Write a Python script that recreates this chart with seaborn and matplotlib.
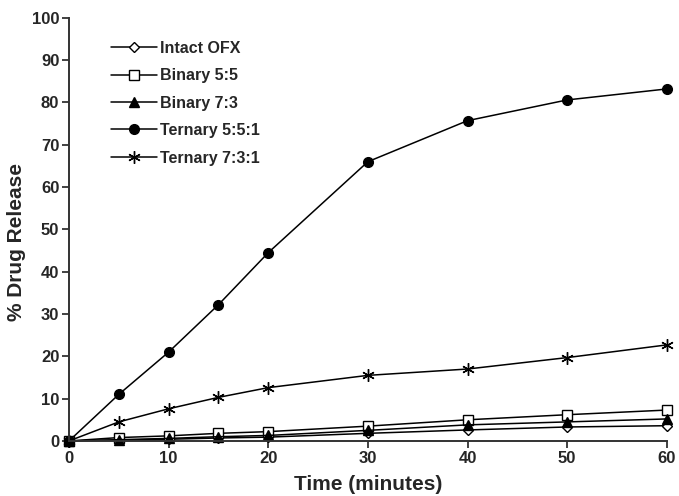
import matplotlib
matplotlib.use("Agg")
import matplotlib.pyplot as plt
import seaborn as sns
import pandas as pd

time_min = [0, 5, 10, 15, 20, 30, 40, 50, 60]
intact_ofx = [0, 0.2, 0.4, 0.7, 0.9, 1.8, 2.6, 3.3, 3.6]
binary_55 = [0, 0.8, 1.2, 1.8, 2.2, 3.5, 5.0, 6.2, 7.3]
binary_73 = [0, 0.3, 0.6, 1.0, 1.3, 2.5, 3.8, 4.5, 5.2]
ternary_551 = [0, 11.0, 21.0, 32.2, 44.5, 66.0, 75.7, 80.6, 83.2]
ternary_731 = [0, 4.5, 7.6, 10.3, 12.6, 15.5, 17.0, 19.7, 22.7]
series_names = ["Intact OFX", "Binary 5:5", "Binary 7:3", "Ternary 5:5:1", "Ternary 7:3:1"]
x_ticks = [0, 10, 20, 30, 40, 50, 60]
y_ticks = [0, 10, 20, 30, 40, 50, 60, 70, 80, 90, 100]

sns.set_theme(style="ticks")
plt.rcParams['font.family'] = ['Liberation Sans', 'DejaVu Sans']
plt.rcParams['font.weight'] = 'bold'

fig = plt.figure(figsize=(6.79, 4.96), dpi=100)
ax = fig.add_axes([0.1016, 0.111, 0.8804, 0.853])

values = [intact_ofx, binary_55, binary_73, ternary_551, ternary_731]
styles = [
    dict(marker='D', markerfacecolor='white', markersize=5),
    dict(marker='s', markerfacecolor='white', markersize=6.5),
    dict(marker='^', markerfacecolor='black', markersize=7),
    dict(marker='o', markerfacecolor='black', markersize=7),
    dict(marker=(6, 2, 0), markerfacecolor='black', markersize=9),
]
for name, vals, st in zip(series_names, values, styles):
    df = pd.DataFrame({"t": time_min, "v": vals})
    sns.lineplot(data=df, x="t", y="v", ax=ax, color='black', linewidth=1.1,
                 markeredgecolor='black', markeredgewidth=1.0, label=name, **st)

ax.set_xlim(0, 60)
ax.set_ylim(0, 100)
ax.set_xticks(x_ticks)
ax.set_yticks(y_ticks)
ax.set_xlabel("Time (minutes)", fontsize=15, fontweight='bold')
ax.set_ylabel("% Drug Release", fontsize=15, fontweight='bold')
ax.xaxis.set_label_coords(0.5, -0.08)
ax.yaxis.set_label_coords(-0.072, 0.47)
for lbl in ax.get_xticklabels() + ax.get_yticklabels():
    lbl.set_fontweight('bold')
ax.tick_params(axis='both', labelsize=12, length=5, width=1.3, direction='out', color='#333333', pad=2)
for s in ['left', 'bottom']:
    ax.spines[s].set_linewidth(1.4)
    ax.spines[s].set_color('#333333')
sns.despine(ax=ax)
for line in ax.lines:
    line.set_clip_on(False)

leg = ax.legend(loc='upper left', bbox_to_anchor=(0.046, 0.98), frameon=False,
                prop={'weight': 'bold', 'size': 11.5}, handlelength=2.9,
                labelspacing=0.78, handletextpad=0.2)

fig.savefig("out.png", dpi=100)
